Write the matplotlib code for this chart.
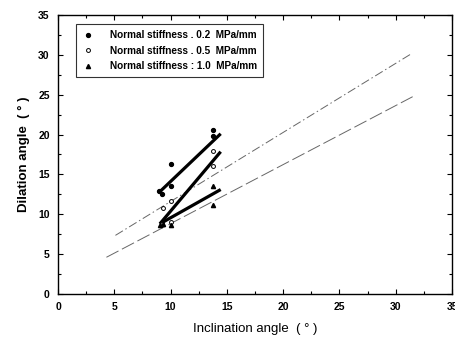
import matplotlib
matplotlib.use("Agg")
import matplotlib.pyplot as plt
from matplotlib.ticker import MultipleLocator

plt.rcParams['font.family'] = ['Liberation Sans', 'DejaVu Sans']

# Data
x_02 = [9.0, 9.2, 10.0, 10.0, 13.8, 13.8]
y_02 = [12.9, 12.5, 16.3, 13.6, 20.6, 19.8]
x_05 = [9.2, 9.3, 10.0, 10.0, 13.8, 13.8]
y_05 = [8.8, 10.8, 11.7, 9.0, 17.9, 16.1]
x_10 = [9.1, 9.3, 10.0, 13.8, 13.8]
y_10 = [8.7, 8.8, 8.7, 13.5, 11.2]

fit02_x = [8.95, 14.45]
fit02_y = [12.7, 20.1]
fit05_x = [9.05, 14.45]
fit05_y = [8.8, 17.85]
fit10_x = [9.05, 14.45]
fit10_y = [8.8, 13.1]

upper_x = [5.1, 31.4]
upper_y = [7.35, 30.15]
lower_x = [4.3, 31.5]
lower_y = [4.6, 24.75]

labels = ["Normal stiffness . 0.2  MPa/mm",
          "Normal stiffness . 0.5  MPa/mm",
          "Normal stiffness : 1.0  MPa/mm"]

fig = plt.figure(figsize=(4.55, 3.45), dpi=100)
ax = fig.add_axes([0.1275, 0.148, 0.866, 0.8085])

ax.plot(upper_x, upper_y, color='#666666', lw=0.7, dashes=(9, 3, 1.5, 3))
ax.plot(lower_x, lower_y, color='#666666', lw=0.7, dashes=(14, 4))

ax.plot(fit02_x, fit02_y, color='black', lw=2.3, solid_capstyle='butt')
ax.plot(fit05_x, fit05_y, color='black', lw=2.3, solid_capstyle='butt')
ax.plot(fit10_x, fit10_y, color='black', lw=2.3, solid_capstyle='butt')

h1, = ax.plot(x_02, y_02, 'o', ms=2.8, mfc='black', mec='black', ls='none')
h2, = ax.plot(x_05, y_05, 'o', ms=2.8, mfc='white', mec='black', mew=0.7, ls='none')
h3, = ax.plot(x_10, y_10, '^', ms=3.0, mfc='black', mec='black', ls='none')

leg = ax.legend([h1, h2, h3], labels, loc='upper left', bbox_to_anchor=(0.046, 0.966),
                borderaxespad=0, fontsize=7.2, frameon=True, fancybox=False, edgecolor='black',
                handlelength=1.2, handletextpad=1.6, borderpad=0.6, labelspacing=0.55)
leg.get_frame().set_linewidth(0.8)
for t in leg.get_texts():
    t.set_fontweight('bold')

ax.set_xlim(0, 35)
ax.set_ylim(0, 35)
ax.xaxis.set_major_locator(MultipleLocator(5))
ax.yaxis.set_major_locator(MultipleLocator(5))
ax.xaxis.set_minor_locator(MultipleLocator(2.5))
ax.yaxis.set_minor_locator(MultipleLocator(2.5))
ax.tick_params(which='both', top=True, right=True, direction='in', labelsize=7.5, width=0.8)
ax.tick_params(which='major', length=3.5, pad=6)
ax.tick_params(which='minor', length=2)
for lbl in ax.get_xticklabels() + ax.get_yticklabels():
    lbl.set_fontweight('bold')
for s in ax.spines.values():
    s.set_linewidth(1.0)

ax.set_xlabel("Inclination angle  ( ° )", fontsize=9.5, labelpad=8)
ax.set_ylabel("Dilation angle  ( ° )", fontsize=9.5, fontweight='bold', labelpad=6)

fig.savefig("out.png", dpi=100)
